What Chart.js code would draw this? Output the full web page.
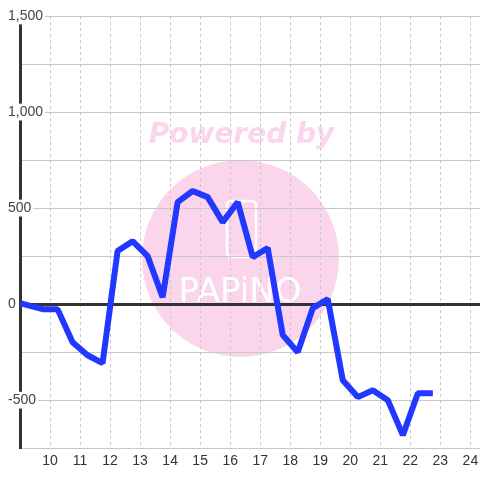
<!DOCTYPE html>
<html>
<head>
<meta charset="utf-8">
<script src="https://cdn.jsdelivr.net/npm/chart.js@4"></script>
<style>
html,body{margin:0;padding:0;background:#fff}
#wrap{width:480px;height:480px;position:relative}
</style>
</head>
<body>
<div id="wrap"><canvas id="c"></canvas></div>
<script>
// Data (hours of day, values)
const times = [9.0, 9.75, 10.25, 10.75, 11.25, 11.75, 12.25, 12.75, 13.25, 13.75, 14.25, 14.75, 15.25, 15.75, 16.25, 16.75, 17.25, 17.75, 18.25, 18.75, 19.25, 19.75, 20.25, 20.75, 21.25, 21.75, 22.25, 22.75];
const values = [5, -26, -26, -198, -266, -307, 276, 328, 250, 36, 531, 589, 557, 427, 531, 245, 292, -161, -250, -21, 26, -396, -484, -448, -500, -682, -464, -464];
const xTicks = [10, 11, 12, 13, 14, 15, 16, 17, 18, 19, 20, 21, 22, 23, 24];
const yTicks = [-750, -500, -250, 0, 250, 500, 750, 1000, 1250, 1500];
const yLabelled = [-500, 0, 500, 1000, 1500];

const watermark = {
  id: 'watermark',
  beforeDraw(chart) {
    const ctx = chart.ctx;
    ctx.save();
    ctx.fillStyle = '#fbd5eb';
    ctx.beginPath();
    ctx.arc(240.5, 258.5, 98.5, 0, Math.PI * 2);
    ctx.fill();
    ctx.font = 'italic bold 28px "DejaVu Sans"';
    ctx.textAlign = 'center';
    ctx.textBaseline = 'alphabetic';
    ctx.fillStyle = '#fbd5eb';
    ctx.fillText('Powered by', 241.5, 143);
    // phone outline
    ctx.strokeStyle = '#ffffff';
    ctx.lineWidth = 2.5;
    ctx.beginPath();
    ctx.roundRect(227, 201, 29, 56, 4);
    ctx.stroke();
    ctx.fillStyle = '#ffffff';
    ctx.font = '34px "DejaVu Sans"';
    ctx.fillText('PAPiNO', 240, 302);
    ctx.restore();
  }
};

new Chart(document.getElementById('c'), {
  type: 'line',
  data: {
    datasets: [{
      data: times.map((t, i) => ({x: t, y: values[i]})),
      borderColor: '#2038ff',
      borderWidth: 6,
      borderJoinStyle: 'bevel',
      tension: 0,
      pointRadius: 0,
      fill: false
    }]
  },
  options: {
    responsive: true,
    maintainAspectRatio: false,
    animation: false,
    layout: { padding: { left: 20, top: 16, right: 0, bottom: 5 } },
    plugins: { legend: { display: false }, tooltip: { enabled: false } },
    scales: {
      x: {
        type: 'linear',
        min: 9,
        max: 24.32,
        afterBuildTicks: s => { s.ticks = xTicks.map(v => ({value: v})); },
        afterFit: s => { s.paddingLeft = 0; s.paddingRight = 0; },
        grid: { color: '#c8c8c8', lineWidth: 1, drawTicks: false },
        border: { display: false, dash: [3, 3] },
        ticks: {
          autoSkip: false, maxRotation: 0, padding: 5,
          color: '#333',
          font: { family: '"Liberation Sans", Arial, sans-serif', size: 14 },
          callback: v => String(v)
        }
      },
      y: {
        min: -750,
        max: 1500,
        afterBuildTicks: s => { s.ticks = yTicks.map(v => ({value: v})); },
        afterFit: s => { s.width = 0; s.paddingTop = 0; s.paddingBottom = 0; },
        grid: {
          drawTicks: false,
          color: c => (c.tick && c.tick.value === 0) ? '#333' : '#c8c8c8',
          lineWidth: c => (c.tick && c.tick.value === 0) ? 3 : 1
        },
        border: { display: true, color: '#333', width: 3 },
        ticks: {
          mirror: true,
          padding: -12,
          color: '#444',
          font: { family: '"Liberation Sans", Arial, sans-serif', size: 14 },
          showLabelBackdrop: true,
          backdropColor: c => (c.tick && yLabelled.includes(c.tick.value)) ? '#ffffff' : 'rgba(0,0,0,0)',
          backdropPadding: { left: 2, right: 2, top: 0, bottom: 0 },
          callback: v => yLabelled.includes(v) ? v.toLocaleString('en-US') : ''
        }
      }
    }
  },
  plugins: [watermark]
});
</script>
</body>
</html>
